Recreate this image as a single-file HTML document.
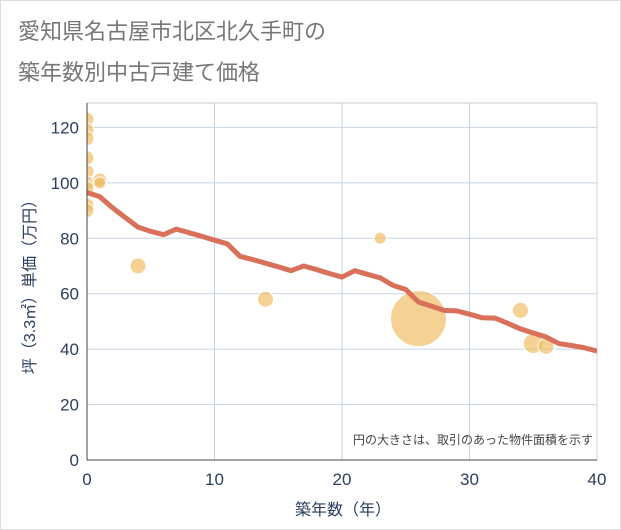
<!DOCTYPE html>
<html><head><meta charset="utf-8"><style>
body{margin:0;background:#fff;font-family:"Liberation Sans","Noto Sans CJK JP",sans-serif}
#wrap{position:relative;width:619px;height:528px;border:1px solid #ddd;overflow:hidden}
</style></head><body>
<div id="wrap">
<svg id="chart" width="619" height="528">
<defs><clipPath id="pc"><rect x="86" y="102" width="510" height="357"/></clipPath></defs>
<text x="17" y="38" font-size="22" fill="#777">愛知県名古屋市北区北久手町の</text>
<text x="17" y="79" font-size="22" fill="#777">築年数別中古戸建て価格</text>
<g id="grid"></g><g id="bubbles" clip-path="url(#pc)"></g><g id="line" clip-path="url(#pc)"></g><g id="axes"></g>
<text x="592" y="443" font-size="12" fill="#444" text-anchor="end">円の大きさは、取引のあった物件面積を示す</text>
<text x="342" y="514" font-size="16" fill="#2a3f5f" text-anchor="middle">築年数（年）</text>
<text transform="translate(34,282) rotate(-90)" font-size="16" fill="#2a3f5f" text-anchor="middle">坪（3.3㎡）単価（万円）</text>
</svg></div>
<script>
const xTicks=[0,10,20,30,40];
const yTicks=[0,20,40,60,80,100,120];
const bubbleX=[0,0,0,0,0,0,0,0,0,1,1,4,14,23,26,34,35,36];
const bubbleY=[123,119,116,109,104,100,98,92,90,101,100,70,58,80,51,54,42,41];
const bubbleR=[7,7,7,7,7,7,7,7,7,7,6,8,8,6,28,8,10,8];
const lineX=[0,1,2,3,4,5,6,7,8,9,10,11,12,13,14,15,16,17,18,19,20,21,22,23,24,25,26,27,28,29,30,31,32,33,34,35,36,37,38,39,40];
const lineY=[96.5,95,91,87.5,84,82.5,81.3,83.3,82,80.7,79.3,78,73.5,72.3,71,69.7,68.3,70,68.7,67.3,66,68.3,67,65.7,63,61.5,57,55.5,54,53.8,52.6,51.3,51.2,49.3,47.3,45.8,44.4,42,41.3,40.5,39.3];
const L=86,R=596,T=102,B=459;
const sx=v=>L+(v-0)/40*(R-L);
const sy=v=>B-v/128.8*(B-T);
const NS="http://www.w3.org/2000/svg";
function mk(t,a,p){const e=document.createElementNS(NS,t);for(const k in a)e.setAttribute(k,a[k]);p.appendChild(e);return e;}
const g=document.getElementById('grid'),ax=document.getElementById('axes');
mk('rect',{x:L,y:T,width:R-L,height:B-T,fill:'none',stroke:'#ccc'},g);
xTicks.forEach(v=>{const l=mk('line',{x1:sx(v),x2:sx(v),y1:T,y2:B,stroke:'#c8d4e3'},g);

const t=mk('text',{x:sx(v),y:B+25,'font-size':17,fill:'#2a3f5f','text-anchor':'middle'},ax);t.textContent=v;
});
yTicks.forEach(v=>{const l=mk('line',{x1:L,x2:R,y1:sy(v),y2:sy(v),stroke:'#c8d4e3'},g);

const t=mk('text',{x:L-8,y:sy(v)+6,'font-size':17,fill:'#2a3f5f','text-anchor':'end'},ax);t.textContent=v;
});
mk('line',{x1:L,x2:L,y1:T,y2:B,stroke:'#444'},ax);mk('line',{x1:L,x2:R,y1:B,y2:B,stroke:'#444'},ax);
const bg=document.getElementById('bubbles');
bubbleX.forEach((x,i)=>{const c=mk('circle',{cx:sx(x),cy:sy(bubbleY[i]),r:bubbleR[i],fill:'#f0b85a','fill-opacity':0.65,stroke:'#fff','stroke-width':1},bg);
});
const p=mk('path',{d:lineX.map((x,i)=>(i?'L':'M')+sx(x)+','+sy(lineY[i])).join(''),fill:'none',stroke:'#d9705a','stroke-width':5,'stroke-linejoin':'round'},document.getElementById('line'));

</script></body></html>
